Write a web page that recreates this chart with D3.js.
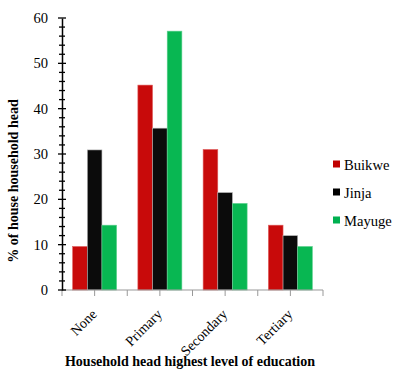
<!DOCTYPE html>
<html>
<head>
<meta charset="utf-8">
<script src="https://cdn.jsdelivr.net/npm/d3@7"></script>
<style>
  body { margin: 0; background: #fff; }
  svg text { font-family: 'Liberation Serif', 'Times New Roman', 'DejaVu Serif', serif; }
</style>
</head>
<body>
<svg id="chart"></svg>
<script>
const categories = ['None', 'Primary', 'Secondary', 'Tertiary'];
const seriesNames = ['Buikwe', 'Jinja', 'Mayuge'];
const buikwe = [9.6, 45.2, 31.0, 14.3];
const jinja = [30.9, 35.7, 21.5, 12.0];
const mayuge = [14.3, 57.1, 19.1, 9.6];
const yTicks = [0, 10, 20, 30, 40, 50, 60];
const colors = ['#c80a0a', '#0b0b0b', '#08b752'];
const legendColors = ['#c00000', '#000000', '#00b050'];

const w = 400, h = 373;
const padLeft = 62, padRight = 323, padTop = 18, padBottom = 290;
const serif = "'Liberation Serif', 'Times New Roman', 'DejaVu Serif', serif";

const svg = d3.select('#chart').attr('width', w).attr('height', h)
  .attr('font-family', serif);

const x0 = d3.scaleBand().domain(categories).range([padLeft, padRight]);
const x1 = d3.scaleBand().domain(seriesNames).range([0, 44]);
const y = d3.scaleLinear().domain([0, 60]).range([padBottom, padTop]);

const values = [buikwe, jinja, mayuge];

// bars
categories.forEach((c, i) => {
  const g = svg.append('g').attr('transform', `translate(${x0(c) + (x0.bandwidth() - 44) / 2}, 0)`);
  seriesNames.forEach((s, j) => {
    g.append('rect')
      .attr('x', x1(s))
      .attr('y', y(values[j][i]))
      .attr('width', x1.bandwidth())
      .attr('height', padBottom - y(values[j][i]))
      .attr('fill', colors[j])
      .attr('stroke', j === 1 ? '#bbbbbb' : (j === 0 ? '#e06060' : '#60d090'))
      .attr('stroke-width', 0.6);
  });
});

// x axis
const xAxis = svg.append('g').attr('transform', `translate(0, ${padBottom})`);
xAxis.append('line').attr('x1', padLeft).attr('x2', padRight).attr('stroke', '#999').attr('stroke-width', 1.2);
const bounds = categories.map(c => x0(c)).concat([padRight]);
const centers = categories.map(c => x0(c) + x0.bandwidth() / 2);
bounds.concat(centers).forEach(v => {
  xAxis.append('line').attr('x1', v).attr('x2', v).attr('y1', 0).attr('y2', 6)
    .attr('stroke', '#999').attr('stroke-width', 1);
});
categories.forEach((c, i) => {
  xAxis.append('text')
    .attr('transform', `translate(${centers[i] + 3}, 25) rotate(-45)`)
    .attr('text-anchor', 'end')
    .attr('font-size', 14)
    .attr('fill', '#000')
    .text(c);
});

// y axis
const yAxisG = svg.append('g').attr('transform', `translate(${padLeft}, 0)`)
  .call(d3.axisLeft(y).tickValues(d3.range(0, 61, 2)).tickSize(0).tickFormat(''));
yAxisG.attr('font-family', serif);
yAxisG.select('.domain').attr('stroke', '#000').attr('stroke-width', 1.5);
d3.range(0, 61, 2).forEach(v => {
  const major = v % 10 === 0;
  yAxisG.append('line').attr('x1', major ? -4 : -3).attr('x2', major ? 4 : 3)
    .attr('y1', y(v)).attr('y2', y(v)).attr('stroke', '#000').attr('stroke-width', 1.3);
});
yTicks.forEach(v => {
  yAxisG.append('text')
    .attr('x', -14).attr('y', y(v)).attr('dy', '0.35em')
    .attr('text-anchor', 'end').attr('font-size', 14.6).attr('fill', '#000')
    .text(v);
});

// axis titles
svg.append('text')
  .attr('transform', `translate(18, 181) rotate(-90)`)
  .attr('text-anchor', 'middle')
  .attr('font-size', 14).attr('font-weight', 'bold')
  .text('% of house household head');

svg.append('text')
  .attr('x', 190).attr('y', 366)
  .attr('text-anchor', 'middle')
  .attr('font-size', 14).attr('font-weight', 'bold')
  .text('Household head highest level of education');

// legend
seriesNames.forEach((s, j) => {
  const ly = 164.5 + j * 28;
  svg.append('rect').attr('x', 333).attr('y', ly - 4).attr('width', 7).attr('height', 7).attr('fill', legendColors[j]);
  svg.append('text').attr('x', 344).attr('y', ly).attr('dy', '0.35em')
    .attr('font-size', 14.6).text(s);
});
</script>
</body>
</html>
